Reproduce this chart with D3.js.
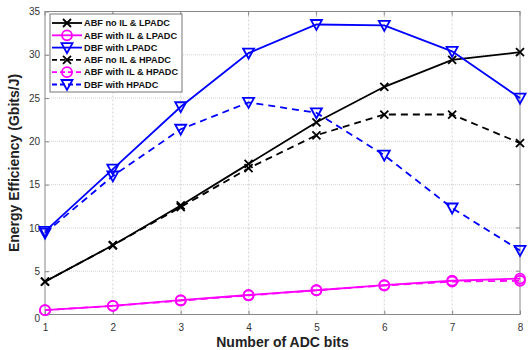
<!DOCTYPE html>
<html>
<head>
<meta charset="utf-8">
<script src="https://cdn.jsdelivr.net/npm/d3@7"></script>
<style>
  body { margin: 0; background: #fff; }
  svg { display: block; font-family: Arial, "Liberation Sans", sans-serif; }
  .tick text { fill: #333; font-size: 10px; }
  .axis-label { font-weight: bold; font-size: 14px; fill: #222; }
  .legend text { font-weight: bold; font-size: 9.2px; fill: #111; }
</style>
</head>
<body>
<svg id="chart" width="530" height="350"></svg>
<script>
const bits = [1, 2, 3, 4, 5, 6, 7, 8];
const abfNoIlLp = [3.8, 8.0, 12.6, 17.4, 22.2, 26.3, 29.4, 30.3];
const abfIlLp = [0.5, 1.0, 1.65, 2.25, 2.8, 3.4, 3.9, 4.15];
const dbfLp = [9.6, 16.8, 24.0, 30.2, 33.5, 33.4, 30.4, 25.0];
const abfNoIlHp = [3.8, 8.0, 12.4, 16.9, 20.7, 23.1, 23.1, 19.8];
const abfIlHp = [0.5, 1.0, 1.6, 2.2, 2.8, 3.35, 3.8, 3.9];
const dbfHp = [9.4, 16.0, 21.4, 24.5, 23.3, 18.4, 12.3, 7.4];
const yTicks = [0, 5, 10, 15, 20, 25, 30, 35];

const series = [
  { name: 'ABF no IL & LPADC', values: abfNoIlLp, color: '#000', dash: null, marker: 'x' },
  { name: 'ABF with IL & LPADC', values: abfIlLp, color: '#ff00ff', dash: null, marker: 'o' },
  { name: 'DBF with LPADC', values: dbfLp, color: '#0000ff', dash: null, marker: 'v' },
  { name: 'ABF no IL & HPADC', values: abfNoIlHp, color: '#000', dash: '7,5', marker: 'x' },
  { name: 'ABF with IL & HPADC', values: abfIlHp, color: '#ff00ff', dash: '7,5', marker: 'o' },
  { name: 'DBF with HPADC', values: dbfHp, color: '#0000ff', dash: '7,5', marker: 'v' },
];

const svg = d3.select('#chart');
const margin = { top: 11.5, right: 10, bottom: 35.5, left: 45 };
const width = 530 - margin.left - margin.right;
const height = 350 - margin.top - margin.bottom;

const x = d3.scaleLinear().domain([1, 8]).range([0, width]);
const y = d3.scaleLinear().domain([0, 35]).range([height, 0]);

const g = svg.append('g').attr('transform', `translate(${margin.left},${margin.top})`);

// grid
g.append('g').selectAll('line').data(bits.slice(1, -1)).join('line')
  .attr('x1', (d) => x(d)).attr('x2', (d) => x(d)).attr('y1', 0).attr('y2', height)
  .attr('stroke', '#c8c8c8').attr('stroke-dasharray', '2,2').attr('stroke-width', 0.8);
g.append('g').selectAll('line').data(yTicks.slice(1, -1)).join('line')
  .attr('x1', 0).attr('x2', width).attr('y1', (d) => y(d)).attr('y2', (d) => y(d))
  .attr('stroke', '#c8c8c8').attr('stroke-dasharray', '1,1').attr('stroke-width', 0.8);

// axes (ticks inward, matlab style)
const xAxis = g.append('g').attr('transform', `translate(0,${height})`)
  .call(d3.axisBottom(x).tickValues(bits).tickFormat(d3.format('d')).tickSizeInner(-4).tickSizeOuter(0).tickPadding(9));
const yAxis = g.append('g')
  .call(d3.axisLeft(y).tickValues(yTicks).tickSizeInner(-4).tickSizeOuter(0).tickPadding(5));
[xAxis, yAxis].forEach((a) => {
  a.select('.domain').remove();
  a.selectAll('.tick line').attr('stroke', '#888');
});
yAxis.selectAll('.tick').filter((d) => d === 0).select('text').attr('dy', '0.7em');

// upper/right axis ticks
g.append('g').selectAll('line').data(bits).join('line')
  .attr('x1', (d) => x(d)).attr('x2', (d) => x(d)).attr('y1', 0).attr('y2', 4).attr('stroke', '#888');
g.append('g').selectAll('line').data(yTicks).join('line')
  .attr('x1', width - 4).attr('x2', width).attr('y1', (d) => y(d)).attr('y2', (d) => y(d)).attr('stroke', '#888');

g.append('rect').attr('width', width).attr('height', height)
  .attr('fill', 'none').attr('stroke', '#888').attr('stroke-width', 1);

const line = d3.line().x((d, i) => x(bits[i])).y((d) => y(d));

function drawMarker(sel, type, color) {
  if (type === 'x') {
    sel.append('path').attr('d', 'M-4,-4L4,4M-4,4L4,-4').attr('stroke', color).attr('stroke-width', 1.8).attr('fill', 'none');
  } else if (type === 'o') {
    sel.append('circle').attr('r', 5).attr('stroke', color).attr('stroke-width', 1.8).attr('fill', 'none');
  } else {
    sel.append('path').attr('d', 'M-5.5,-4.5L5.5,-4.5L0,5.5Z').attr('stroke', color).attr('stroke-width', 1.8).attr('fill', 'none');
  }
}

series.forEach((s) => {
  g.append('path').datum(s.values).attr('d', line)
    .attr('fill', 'none').attr('stroke', s.color).attr('stroke-width', 1.8)
    .attr('stroke-dasharray', s.dash);
  s.values.forEach((v, i) => {
    const m = g.append('g').attr('transform', `translate(${x(bits[i])},${y(v)})`);
    drawMarker(m, s.marker, s.color);
  });
});

// legend
const legend = svg.append('g').attr('class', 'legend').attr('transform', 'translate(50,14)');
legend.append('rect').attr('width', 132).attr('height', 78)
  .attr('fill', '#fff').attr('stroke', '#777').attr('stroke-width', 1);
series.forEach((s, i) => {
  const row = legend.append('g').attr('transform', `translate(0,${9 + i * 12.3})`);
  row.append('line').attr('x1', 2).attr('x2', 32).attr('y1', 0).attr('y2', 0)
    .attr('stroke', s.color).attr('stroke-width', 1.8).attr('stroke-dasharray', s.dash ? '5,3' : null);
  drawMarker(row.append('g').attr('transform', 'translate(17,0)'), s.marker, s.color);
  row.append('text').attr('x', 34).attr('y', 0).attr('dy', '0.35em').text(s.name);
});

// axis labels
svg.append('text').attr('class', 'axis-label').attr('text-anchor', 'middle')
  .attr('x', margin.left + width / 2).attr('y', 347).text('Number of ADC bits');
svg.append('text').attr('class', 'axis-label').attr('text-anchor', 'middle')
  .attr('transform', `translate(19,${margin.top + height / 2}) rotate(-90)`).text('Energy Efficiency (Gbits/J)');
</script>
</body>
</html>
